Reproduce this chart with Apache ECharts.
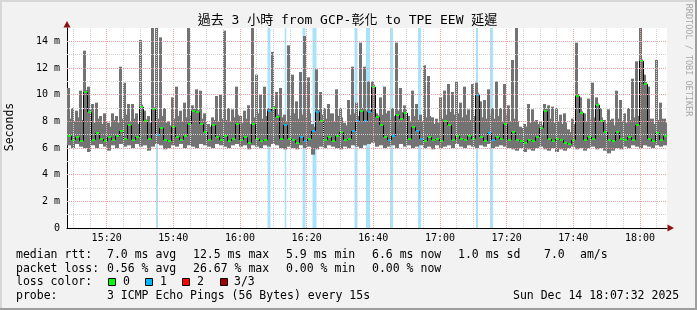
<!DOCTYPE html>
<html><head><meta charset="utf-8">
<script src="https://cdn.jsdelivr.net/npm/echarts@6/dist/echarts.min.js"></script>
<style>html,body{margin:0;padding:0;background:#f2f2f2}#c{width:697px;height:310px}</style>
</head><body><div id="c"></div>
<script>
// ---------- data ----------
const startTime = '15:08:06';
const endTime = '18:08:06';
const stepSeconds = 72;
const maxRtt = [
 10.5, 9.0, 8.8, 10.3, 13.3, 10.6, 9.3, 9.4, 8.4, 8.6,
 7.9, 8.6, 8.4, 12.1, 10.9, 9.3, 9.3, 8.6, 14.1, 8.8,
 8.4, 15.2, 15.2, 14.3, 9.0, 8.0, 9.8, 10.6, 8.8, 9.4,
 15.2, 9.2, 10.4, 10.3, 8.6, 7.8, 8.3, 9.9, 10.0, 14.8,
 9.0, 8.9, 10.6, 8.4, 8.8, 9.2, 15.2, 11.5, 10.0, 10.6,
 9.0, 13.2, 10.2, 10.5, 8.5, 13.7, 11.5, 9.5, 11.7, 14.4,
 11.3, 7.8, 11.9, 10.2, 9.0, 9.3, 8.6, 10.4, 9.0, 7.9,
 9.6, 12.1, 9.4, 13.9, 12.1, 11.0, 11.0, 8.6, 9.8, 10.6,
 8.8, 9.0, 13.9, 10.5, 9.2, 8.4, 10.3, 9.3, 8.5, 12.2,
 11.4, 8.3, 8.2, 9.8, 10.3, 10.8, 10.2, 11.0, 9.4, 10.6,
 8.9, 10.8, 10.9, 9.5, 9.6, 10.4, 9.0, 11.0, 9.0, 10.8,
 9.2, 12.6, 15.2, 7.6, 7.8, 9.3, 8.9, 8.1, 8.0, 9.3,
 9.2, 9.1, 9.0, 8.5, 8.6, 7.4, 8.2, 13.9, 9.8, 8.6,
 9.7, 10.9, 9.8, 9.0, 8.1, 8.9, 8.2, 10.3, 9.6, 8.6,
 9.0, 11.2, 12.5, 15.2, 11.5, 10.6, 8.2, 12.6, 9.4, 8.2
];
// typical upper edge of the dense smoke in each column
const bulkRtt = [
 8.2, 8.0, 8.3, 8.1, 8.6, 8.4, 7.9, 8.2, 7.8, 8.0,
 7.6, 8.1, 7.9, 8.2, 8.5, 8.0, 8.2, 7.8, 8.4, 8.1,
 7.9, 8.6, 8.2, 8.4, 7.9, 7.7, 8.2, 8.4, 8.0, 8.3,
 8.4, 8.8, 8.6, 8.2, 8.0, 7.6, 8.1, 8.0, 8.2, 8.1,
 8.0, 8.3, 8.5, 7.9, 8.2, 7.8, 8.3, 8.6, 8.2, 8.4,
 8.6, 8.8, 8.5, 8.3, 8.0, 8.4, 8.6, 8.2, 8.5, 8.3,
 8.6, 7.6, 8.8, 8.5, 8.2, 8.6, 8.0, 8.4, 8.3, 7.7,
 8.5, 8.6, 8.4, 9.0, 8.8, 8.6, 9.2, 8.2, 8.5, 8.6,
 8.2, 8.4, 8.8, 8.7, 8.9, 8.0, 8.4, 8.1, 8.0, 8.3,
 8.4, 7.8, 7.9, 8.2, 8.5, 8.7, 8.5, 8.6, 8.3, 8.5,
 8.1, 8.4, 8.6, 8.3, 8.2, 8.5, 8.2, 8.4, 8.0, 8.5,
 8.0, 8.2, 8.0, 7.5, 7.6, 7.9, 8.0, 7.8, 7.7, 8.4,
 8.2, 7.9, 8.0, 7.8, 7.9, 7.2, 7.8, 8.2, 8.5, 8.0,
 8.2, 8.3, 8.6, 8.3, 7.8, 8.1, 7.7, 8.2, 8.0, 7.9,
 8.1, 8.3, 8.4, 8.6, 8.7, 8.2, 7.8, 8.1, 8.2, 7.9
];
const minRtt = [
 6.2, 6.0, 6.3, 6.1, 6.0, 5.7, 6.2, 6.0, 6.3, 6.1,
 5.8, 6.2, 6.0, 6.3, 6.1, 6.2, 6.0, 6.3, 6.1, 6.2,
 5.8, 6.1, 6.3, 6.2, 5.9, 6.0, 6.2, 6.1, 6.3, 6.0,
 6.2, 6.1, 6.0, 6.3, 6.2, 6.1, 6.0, 6.3, 6.2, 6.1,
 6.0, 6.2, 6.3, 6.1, 6.2, 5.9, 6.2, 6.1, 6.0, 6.2,
 6.1, 6.3, 6.2, 6.0, 5.9, 6.1, 6.0, 5.9, 6.2, 6.0,
 6.1, 5.5, 5.9, 6.1, 6.0, 6.2, 6.1, 6.0, 5.9, 6.1,
 6.0, 6.2, 6.1, 6.0, 6.2, 6.3, 6.4, 6.1, 6.2, 6.0,
 6.1, 6.2, 6.0, 6.3, 6.1, 6.2, 6.0, 6.1, 6.2, 6.0,
 6.1, 5.9, 6.2, 6.0, 6.1, 6.2, 6.0, 6.3, 6.1, 6.0,
 6.2, 6.1, 6.0, 6.2, 6.1, 6.3, 6.0, 6.1, 6.2, 6.1,
 6.0, 5.9, 5.8, 6.0, 5.7, 5.9, 5.8, 6.0, 6.1, 5.9,
 5.8, 6.0, 5.7, 5.9, 5.8, 6.0, 6.1, 5.9, 6.0, 5.8,
 6.0, 6.1, 5.9, 6.0, 5.8, 5.6, 5.8, 6.0, 5.9, 6.1,
 6.0, 6.2, 6.1, 6.0, 6.2, 6.1, 6.0, 6.2, 6.1, 6.2
];
const medianRtt = [
 6.9, 6.6, 6.8, 6.5, 10.2, 8.7, 6.6, 7.1, 6.7, 6.5,
 6.8, 6.6, 6.9, 7.3, 6.7, 7.7, 6.6, 6.8, 9.1, 8.0,
 6.7, 8.9, 7.0, 7.5, 6.6, 6.5, 7.6, 6.8, 6.6, 6.9,
 7.8, 8.8, 8.7, 7.8, 7.2, 6.6, 7.7, 6.8, 6.6, 6.9,
 6.5, 6.7, 7.8, 6.6, 6.8, 6.4, 7.8, 6.7, 6.5, 6.6,
 8.8, 9.0, 8.3, 6.7, 7.7, 6.7, 6.6, 6.4, 6.8, 6.5,
 6.7, 7.3, 8.7, 8.0, 6.6, 6.8, 6.5, 6.9, 7.2, 6.6,
 6.7, 7.3, 8.0, 8.8, 8.0, 8.7, 10.6, 8.3, 7.7, 6.8,
 6.6, 6.9, 8.5, 8.2, 8.6, 6.7, 7.6, 7.3, 6.7, 6.5,
 6.8, 6.6, 6.7, 6.5, 8.0, 7.7, 6.6, 6.9, 6.7, 6.6,
 6.9, 6.7, 10.0, 6.8, 6.5, 7.1, 6.6, 6.8, 6.7, 7.8,
 6.6, 7.2, 6.6, 6.5, 6.4, 6.6, 6.5, 6.8, 7.5, 8.8,
 6.7, 6.5, 6.7, 6.6, 6.4, 6.3, 6.6, 9.9, 8.6, 6.6,
 6.8, 6.7, 9.2, 8.0, 7.2, 6.6, 6.5, 7.2, 6.7, 6.6,
 6.8, 6.6, 7.7, 12.5, 10.8, 6.7, 6.5, 7.1, 6.6, 6.9
];
const lossTimes = ['15:35:06','16:08:42','16:13:39','16:19:12','16:22:21','16:34:48',
                   '16:38:24','16:45:27','16:53:51','17:11:06','17:15:27'];
const lossSeconds = [36, 54, 30, 54, 72, 54, 72, 54, 54, 36, 54];
const lossCount = [1, 1, 1, 1, 1, 1, 1, 1, 1, 1, 1];
const yGridTicks = [1,2,3,4,5,6,7,8,9,10,11,12,13,14];
const yMajorTicks = [2,4,6,8,10,12,14];
const xGridTicks = ['15:10','15:15','15:20','15:25','15:30','15:35','15:40','15:45','15:50','15:55',
  '16:00','16:05','16:10','16:15','16:20','16:25','16:30','16:35','16:40','16:45','16:50','16:55',
  '17:00','17:05','17:10','17:15','17:20','17:25','17:30','17:35','17:40','17:45','17:50','17:55',
  '18:00','18:05'];
const xLabelTicks = ['15:20','15:40','16:00','16:20','16:40','17:00','17:20','17:40','18:00'];
const legendColors = ['#00ff00', '#00b8ff', '#ff0000', '#a00000'];

// ---------- helpers ----------
const toMin = s => { const p = s.split(':').map(Number); return p[0]*60 + p[1] + (p[2]||0)/60; };
const t0 = toMin(startTime), t1 = toMin(endTime);
const stepMin = stepSeconds / 60;
const fmt = v => { const h = Math.floor(v/60), m = Math.round(v - h*60); return h + ':' + String(m).padStart(2,'0'); };

const lossData = lossTimes.map((s,i) => [toMin(s), lossSeconds[i]/60, lossCount[i]]);
function colIndexColor(t) {
  let c = 0;
  lossData.forEach(l => { if (Math.abs(l[0]-t) < (l[1]+stepMin)/2) c = Math.max(c, l[2]); });
  return c;
}
const smokeData = maxRtt.map((mx,i) => [t0 + (i+0.5)*stepMin, minRtt[i],
  Math.min(mx, Math.max(bulkRtt[i], medianRtt[i] + 0.15)), mx]);
const medData = medianRtt.map((md,i) => {
  const t = t0 + (i+0.5)*stepMin;
  return [t, md, i>0 ? medianRtt[i-1] : md, colIndexColor(t)];
});

const majorX = new Set(xLabelTicks);
const gridLines = [];
xGridTicks.forEach(s => gridLines.push({xAxis: toMin(s), lineStyle:{color: majorX.has(s)?'#f0a0a0':'#d2d2d2', type:[1,1], width:1}}));
yGridTicks.forEach(v => gridLines.push({yAxis: v, lineStyle:{color: yMajorTicks.includes(v)?'#f0a0a0':'#d2d2d2', type:[1,1], width:1}}));

const mono = "'DejaVu Sans Mono', 'Noto Sans CJK TC', monospace";
const legendFont = '11.5px ' + mono;
function txt(x, y, s, extra) {
  return Object.assign({type:'text', x:x, y:y, silent:true, style:{text:s, font:legendFont, fill:'#000', textVerticalAlign:'middle'}}, extra||{});
}
function box(x, y, color) {
  return {type:'rect', silent:true, shape:{x:x+0.5, y:y+0.5, width:7, height:7}, style:{fill:color, stroke:'#000', lineWidth:1}};
}

const chart = echarts.init(document.getElementById('c'), null, {renderer:'canvas'});
chart.setOption({
  animation: false,
  backgroundColor: '#f2f2f2',
  grid: {left: 67, top: 28, width: 600, height: 200, show: true, backgroundColor: '#ffffff', borderWidth: 0},
  xAxis: {
    type: 'value', min: t0, max: t1,
    axisLine: {show: true, lineStyle: {color: '#000', width: 1}},
    axisTick: {show: false},
    splitLine: {show: false},
    axisLabel: {customValues: xLabelTicks.map(toMin), formatter: v => fmt(v), color: '#000',
                fontFamily: mono, fontSize: 10, margin: 5}
  },
  yAxis: {
    type: 'value', min: 0, max: 15, interval: 1,
    axisLine: {show: true, lineStyle: {color: '#000', width: 1}},
    axisTick: {show: false},
    splitLine: {show: false},
    axisLabel: {formatter: v => (v % 2 === 0 && v < 15) ? (v === 0 ? '0' : v + ' m') : '', color: '#000',
                fontFamily: mono, fontSize: 10, margin: 7}
  },
  series: [
    {type: 'line', z: 1, data: [[t0, 0]], showSymbol: false, lineStyle: {opacity: 0}, silent: true,
     markLine: {silent: true, symbol: ['none','none'], label: {show: false}, animation: false, data: gridLines}},
    {type: 'custom', z: 2, clip: true, silent: true, data: lossData,
     renderItem: (p, api) => {
       const t = api.value(0), d = api.value(1);
       const a = api.coord([t - d/2, 15]), b = api.coord([t + d/2, 0]);
       return {type:'rect', shape:{x:a[0], y:a[1], width:Math.max(1,b[0]-a[0]), height:b[1]-a[1]},
               style:{fill:'#a8e3fb'}};
     }},
    {type: 'custom', z: 3, clip: true, silent: true, data: smokeData,
     renderItem: (p, api) => {
       const t = api.value(0), lo = api.value(1), bu = api.value(2), hi = api.value(3);
       const a = api.coord([t - stepMin/2, bu]), b = api.coord([t + stepMin/2, lo]);
       const s = api.coord([t, hi]);
       return {type:'group', children:[
         {type:'rect', shape:{x:a[0], y:a[1], width:b[0]-a[0], height:b[1]-a[1]}, style:{fill:'#737373'}},
         {type:'rect', shape:{x:Math.round(s[0])-2, y:s[1], width:3, height:a[1]-s[1]+1}, style:{fill:'#737373'}}
       ]};
     }},
    {type: 'custom', z: 4, clip: true, silent: true, data: medData,
     renderItem: (p, api) => {
       const t = api.value(0), md = api.value(1), pm = api.value(2), ci = api.value(3);
       const c = api.coord([t - stepMin/2, md]);
       const pr = api.coord([t - stepMin/2, pm]);
       const x0 = Math.round(c[0]);
       return {type:'group', children:[
         {type:'line', shape:{x1:x0+0.5, y1:Math.round(pr[1]), x2:x0+0.5, y2:Math.round(c[1])}, style:{stroke:'#000', lineWidth:1}},
         {type:'rect', shape:{x:x0+1, y:Math.round(c[1])-1, width:3, height:2}, style:{fill:legendColors[ci]}}
       ]};
     }}
  ],
  graphic: [
    {type:'rect', silent:true, shape:{x:0, y:0, width:697, height:2}, style:{fill:'#d6d6d6'}},
    {type:'rect', silent:true, shape:{x:0, y:0, width:2, height:310}, style:{fill:'#d6d6d6'}},
    {type:'rect', silent:true, shape:{x:695, y:0, width:2, height:310}, style:{fill:'#9e9e9e'}},
    {type:'rect', silent:true, shape:{x:0, y:308, width:697, height:2}, style:{fill:'#9e9e9e'}},
    {type:'polygon', silent:true, z:100, shape:{points:[[67,21],[63.5,27.5],[70.5,27.5]]}, style:{fill:'#8b1010'}},
    {type:'polygon', silent:true, z:100, shape:{points:[[674,228],[667.5,224.5],[667.5,231.5]]}, style:{fill:'#8b1010'}},
    {type:'text', silent:true, x:347.5, y:21, style:{text:'過去 3 小時 from GCP-彰化 to TPE EEW 延遲', font:'13px ' + mono,
      fill:'#000', textAlign:'center', textVerticalAlign:'middle'}},
    {type:'text', silent:true, x:10, y:127, rotation:Math.PI/2, style:{text:'Seconds', font:legendFont, fill:'#000',
      textAlign:'center', textVerticalAlign:'middle'}},
    {type:'text', silent:true, x:688, y:60, rotation:-Math.PI/2, style:{text:'RRDTOOL / TOBI OETIKER', font:'8.5px ' + mono,
      fill:'#a8a8a8', textAlign:'center', textVerticalAlign:'middle'}},
    txt(16, 255, 'median rtt:'), txt(107, 255, '7.0 ms avg'), txt(193, 255, '12.5 ms max'), txt(286, 255, '5.9 ms min'),
    txt(372, 255, '6.6 ms now'), txt(458, 255, '1.0 ms sd'), txt(544, 255, '7.0'), txt(580, 255, 'am/s'),
    txt(16, 269, 'packet loss:'), txt(107, 269, '0.56 % avg'), txt(193, 269, '26.67 % max'), txt(286, 269, '0.00 % min'),
    txt(372, 269, '0.00 % now'),
    txt(16, 282, 'loss color:'),
    box(108, 278, legendColors[0]), txt(123, 282, '0'),
    box(145, 278, legendColors[1]), txt(160, 282, '1'),
    box(182, 278, legendColors[2]), txt(197, 282, '2'),
    box(220, 278, legendColors[3]), txt(234, 282, '3/3'),
    txt(16, 296, 'probe:'), txt(107, 296, '3 ICMP Echo Pings (56 Bytes) every 15s'),
    txt(513, 296, 'Sun Dec 14 18:07:32 2025')
  ]
});
</script></body></html>
